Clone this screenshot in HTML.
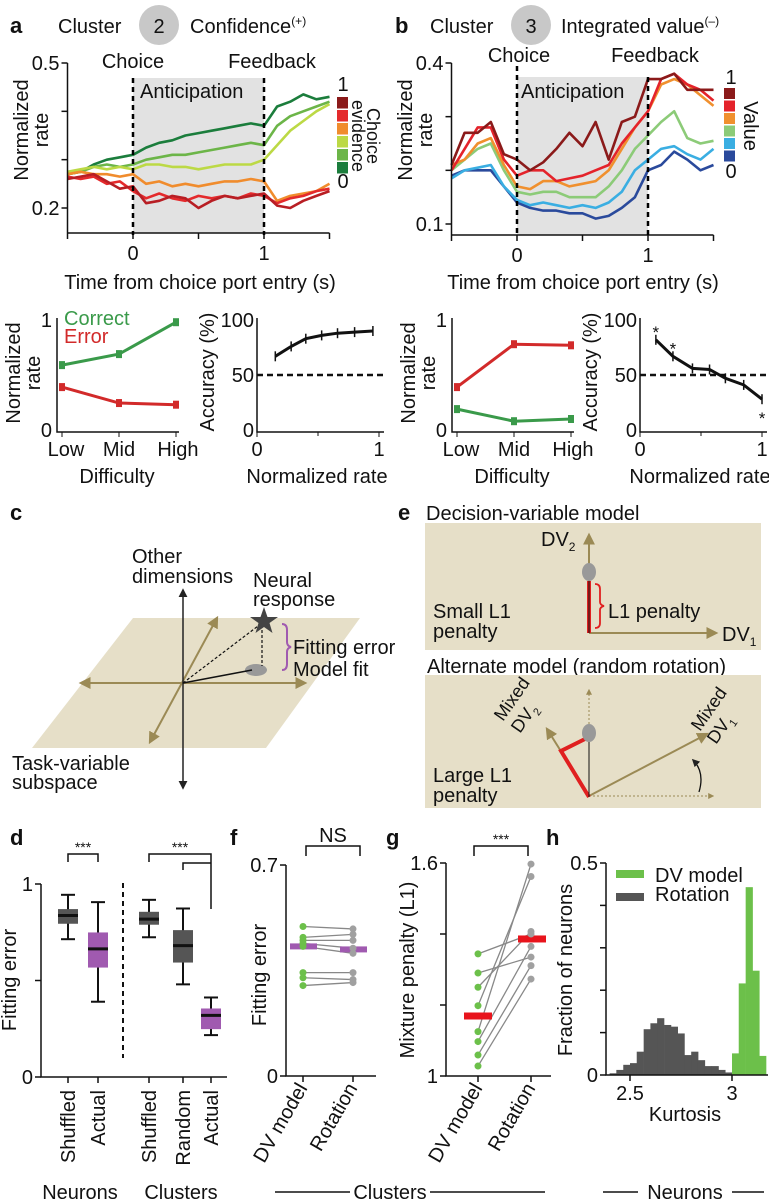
<!DOCTYPE html>
<html><head><meta charset="utf-8">
<style>
html,body{margin:0;padding:0;background:#fff;}
svg{display:block;font-family:"Liberation Sans",sans-serif;}
text{fill:#111;}
.t{font-size:18px}
.tl{font-size:20px}
.b{font-weight:bold;font-size:22px}
</style></head>
<body>
<svg id="fig" width="769" height="1200" viewBox="0 0 769 1200" xmlns="http://www.w3.org/2000/svg">
<defs>
<marker id="ah" viewBox="0 0 10 10" refX="8" refY="5" markerWidth="6" markerHeight="6" orient="auto-start-reverse"><path d="M0,0L10,5L0,10z" fill="#9b8a55"/></marker>
<marker id="ahk" viewBox="0 0 10 10" refX="8" refY="5" markerWidth="6" markerHeight="6" orient="auto-start-reverse"><path d="M0,0L10,5L0,10z" fill="#222"/></marker>
</defs>

<g>
<text x="10" y="33" class="b">a</text>
<text x="58" y="33" class="tl">Cluster</text>
<circle cx="159" cy="25" r="20" fill="#c8c8c8"/>
<text x="159" y="33" class="tl" text-anchor="middle">2</text>
<text x="190" y="33" class="tl">Confidence<tspan font-size="12" dy="-8">(+)</tspan></text>
<rect x="133" y="78" width="131" height="155" fill="#e2e2e2"/>
<text x="133" y="68" class="tl" text-anchor="middle">Choice</text>
<text x="272" y="68" class="tl" text-anchor="middle">Feedback</text>
<text x="140" y="98" class="tl">Anticipation</text>
<g id="ga"></g>
<line x1="133" y1="78" x2="133" y2="235" stroke="#000" stroke-width="2.5" stroke-dasharray="5,4"/>
<line x1="264" y1="78" x2="264" y2="235" stroke="#000" stroke-width="2.5" stroke-dasharray="5,4"/>
<text x="200" y="289" class="tl" text-anchor="middle">Time from choice port entry (s)</text>
<text transform="translate(28,130) rotate(-90)" class="tl" text-anchor="middle">Normalized</text>
<text transform="translate(48,130) rotate(-90)" class="tl" text-anchor="middle">rate</text>
<text x="343" y="91" class="tl" text-anchor="middle">1</text>
<text x="343" y="188" class="tl" text-anchor="middle">0</text>
<text transform="translate(367,136) rotate(90)" class="t" text-anchor="middle">Choice</text>
<text transform="translate(352,136) rotate(90)" class="t" text-anchor="middle">evidence</text>
</g>

<g>
<text x="395" y="33" class="b">b</text>
<text x="430" y="33" class="tl">Cluster</text>
<circle cx="531" cy="25" r="20" fill="#c8c8c8"/>
<text x="531" y="33" class="tl" text-anchor="middle">3</text>
<text x="561" y="33" class="tl">Integrated value<tspan font-size="12" dy="-8">(–)</tspan></text>
<rect x="517" y="77" width="131" height="158" fill="#e2e2e2"/>
<text x="519" y="62" class="tl" text-anchor="middle">Choice</text>
<text x="655" y="62" class="tl" text-anchor="middle">Feedback</text>
<text x="521" y="98" class="tl">Anticipation</text>
<g id="gb"></g>
<line x1="517" y1="66" x2="517" y2="237" stroke="#000" stroke-width="2.5" stroke-dasharray="5,4"/>
<line x1="648" y1="77" x2="648" y2="237" stroke="#000" stroke-width="2.5" stroke-dasharray="5,4"/>
<text x="583" y="289" class="tl" text-anchor="middle">Time from choice port entry (s)</text>
<text transform="translate(412,130) rotate(-90)" class="tl" text-anchor="middle">Normalized</text>
<text transform="translate(432,130) rotate(-90)" class="tl" text-anchor="middle">rate</text>
<text x="731" y="84" class="tl" text-anchor="middle">1</text>
<text x="731" y="178" class="tl" text-anchor="middle">0</text>
<text transform="translate(744,126) rotate(90)" class="tl" text-anchor="middle">Value</text>
</g>

<g id="gsmall"></g>
<text x="64" y="325" class="tl" style="fill:#3a9a4a">Correct</text>
<text x="64" y="343" class="tl" style="fill:#d22a2a">Error</text>

<g>
<text x="10" y="520" class="b">c</text>
<polygon points="32,748 133,618 360,618 266,748" fill="#e6dfc8"/>
<line x1="81" y1="683" x2="305" y2="683" stroke="#9b8a55" stroke-width="2" marker-start="url(#ah)" marker-end="url(#ah)"/>
<line x1="150" y1="742" x2="217" y2="618" stroke="#9b8a55" stroke-width="2" marker-start="url(#ah)" marker-end="url(#ah)"/>
<line x1="183" y1="788" x2="183" y2="590" stroke="#222" stroke-width="1.5" marker-start="url(#ahk)" marker-end="url(#ahk)"/>
<ellipse cx="256" cy="670" rx="11" ry="6" fill="#999"/>
<line x1="183" y1="683" x2="252" y2="670" stroke="#111" stroke-width="1.5"/>
<line x1="183" y1="683" x2="262" y2="623" stroke="#111" stroke-width="1.2" stroke-dasharray="3,2"/>
<line x1="262" y1="625" x2="262" y2="666" stroke="#111" stroke-width="1.2" stroke-dasharray="3,2"/>
<polygon points="264,607 267.5,617 278,617 269.5,623 272.5,633 264,627 255.5,633 258.5,623 250,617 260.5,617" fill="#444"/>
<path d="M282,624 q5,0 5,6 v12 q0,4 4,5 q-4,1 -4,5 v12 q0,6 -5,6" fill="none" stroke="#a05ab0" stroke-width="2"/>
<text x="293" y="654" class="tl">Fitting error</text>
<text x="293" y="676" class="tl">Model fit</text>
<text x="132" y="563" class="tl">Other</text>
<text x="132" y="583" class="tl">dimensions</text>
<text x="253" y="587" class="tl">Neural</text>
<text x="253" y="606" class="tl">response</text>
<text x="12" y="770" class="tl">Task-variable</text>
<text x="12" y="789" class="tl">subspace</text>
</g>

<g>
<text x="398" y="520" class="b">e</text>
<text x="426" y="520" class="tl">Decision-variable model</text>
<rect x="425" y="523" width="336" height="127" fill="#e6dfc8"/>
<line x1="589" y1="633" x2="589" y2="535" stroke="#9b8a55" stroke-width="2" marker-end="url(#ah)"/>
<line x1="589" y1="633" x2="716" y2="633" stroke="#9b8a55" stroke-width="2" marker-end="url(#ah)"/>
<line x1="589" y1="581" x2="589" y2="633" stroke="#e02020" stroke-width="4"/>
<line x1="589" y1="575" x2="589" y2="633" stroke="#111" stroke-width="1"/>
<ellipse cx="589" cy="572" rx="7" ry="9" fill="#999"/>
<path d="M595,584 q5,0 5,5 v13 q0,3 4,4 q-4,1 -4,4 v13 q0,5 -5,5" fill="none" stroke="#e02020" stroke-width="1.8"/>
<text x="608" y="618" class="tl">L1 penalty</text>
<text x="541" y="546" class="tl">DV<tspan font-size="12" dy="5">2</tspan></text>
<text x="722" y="641" class="tl">DV<tspan font-size="12" dy="5">1</tspan></text>
<text x="433" y="618" class="tl">Small L1</text>
<text x="433" y="638" class="tl">penalty</text>
<text x="427" y="673" class="tl">Alternate model (random rotation)</text>
<rect x="425" y="675" width="336" height="133" fill="#e6dfc8"/>
<line x1="589" y1="796" x2="589" y2="690" stroke="#9b8a55" stroke-width="1" stroke-dasharray="2,2" marker-end="url(#ah)"/>
<line x1="589" y1="796" x2="713" y2="796" stroke="#9b8a55" stroke-width="1" stroke-dasharray="2,2" marker-end="url(#ah)"/>
<line x1="589" y1="796" x2="547" y2="729" stroke="#9b8a55" stroke-width="2" marker-end="url(#ah)"/>
<line x1="589" y1="796" x2="707" y2="734" stroke="#9b8a55" stroke-width="2" marker-end="url(#ah)"/>
<polyline points="589,797 561,751 585,739" fill="none" stroke="#e02020" stroke-width="4"/>
<line x1="589" y1="738" x2="589" y2="797" stroke="#111" stroke-width="1"/>
<ellipse cx="589" cy="733" rx="7" ry="9" fill="#999"/>
<path d="M693,760 q12,12 6,32" fill="none" stroke="#111" stroke-width="1.3" marker-start="url(#ahk)"/>
<text transform="translate(503,722) rotate(-55)" class="t">Mixed</text>
<text transform="translate(520,734) rotate(-55)" class="t">DV<tspan font-size="11" dy="5">2</tspan></text>
<text transform="translate(700,732) rotate(-55)" class="t">Mixed</text>
<text transform="translate(716,745) rotate(-55)" class="t">DV<tspan font-size="11" dy="5">1</tspan></text>
<text x="433" y="782" class="tl">Large L1</text>
<text x="433" y="802" class="tl">penalty</text>
</g>

<g id="gd"></g>
<text x="10" y="845" class="b">d</text>
<text x="230" y="845" class="b">f</text>
<text x="386" y="845" class="b">g</text>
<text x="546" y="845" class="b">h</text>
<text x="80" y="1199" class="tl" text-anchor="middle">Neurons</text>
<text x="181" y="1199" class="tl" text-anchor="middle">Clusters</text>
<line x1="275" y1="1192" x2="350" y2="1192" stroke="#111" stroke-width="1.5"/>
<text x="390" y="1199" class="tl" text-anchor="middle">Clusters</text>
<line x1="430" y1="1192" x2="545" y2="1192" stroke="#111" stroke-width="1.5"/>
<line x1="603" y1="1192" x2="638" y2="1192" stroke="#111" stroke-width="1.5"/>
<text x="685" y="1199" class="tl" text-anchor="middle">Neurons</text>
<line x1="732" y1="1192" x2="764" y2="1192" stroke="#111" stroke-width="1.5"/>
</svg>

<script>
const timeA = [-0.5,-0.4,-0.3,-0.2,-0.1,0,0.1,0.2,0.3,0.4,0.5,0.6,0.7,0.8,0.9,1.0,1.1,1.2,1.3,1.4,1.5];
const aDarkGreen = [0.27,0.275,0.29,0.30,0.305,0.31,0.325,0.335,0.34,0.35,0.355,0.36,0.365,0.37,0.375,0.37,0.41,0.42,0.435,0.425,0.43];
const aMidGreen = [0.27,0.275,0.285,0.29,0.285,0.29,0.30,0.305,0.31,0.31,0.315,0.32,0.325,0.33,0.335,0.33,0.37,0.39,0.40,0.41,0.42];
const aYellowGreen = [0.275,0.28,0.285,0.28,0.285,0.28,0.29,0.29,0.285,0.285,0.28,0.285,0.29,0.29,0.29,0.30,0.33,0.36,0.38,0.40,0.415];
const aOrange = [0.27,0.275,0.27,0.27,0.265,0.27,0.25,0.255,0.245,0.25,0.245,0.25,0.255,0.255,0.26,0.255,0.215,0.225,0.23,0.235,0.25];
const aRed = [0.265,0.26,0.265,0.25,0.255,0.235,0.22,0.23,0.22,0.215,0.225,0.22,0.225,0.22,0.23,0.225,0.21,0.22,0.225,0.235,0.24];
const aDarkRed = [0.26,0.265,0.27,0.255,0.24,0.245,0.21,0.215,0.225,0.22,0.20,0.215,0.225,0.22,0.225,0.23,0.205,0.20,0.215,0.225,0.235];
const bDarkBlue = [0.19,0.2,0.2,0.2,0.17,0.14,0.13,0.125,0.125,0.12,0.12,0.11,0.115,0.13,0.15,0.2,0.21,0.235,0.22,0.2,0.21];
const bLightBlue = [0.185,0.2,0.205,0.21,0.17,0.145,0.135,0.14,0.135,0.13,0.135,0.13,0.14,0.16,0.2,0.22,0.24,0.245,0.23,0.22,0.24];
const bGreen = [0.2,0.22,0.24,0.25,0.2,0.16,0.155,0.16,0.16,0.15,0.15,0.15,0.17,0.2,0.24,0.265,0.29,0.31,0.26,0.25,0.255];
const bOrange = [0.21,0.22,0.25,0.26,0.21,0.17,0.165,0.18,0.18,0.17,0.175,0.18,0.2,0.24,0.28,0.31,0.36,0.37,0.36,0.34,0.32];
const bRed = [0.2,0.24,0.28,0.28,0.22,0.19,0.2,0.2,0.18,0.185,0.19,0.2,0.21,0.25,0.28,0.31,0.37,0.38,0.36,0.35,0.33];
const bDarkRed = [0.21,0.27,0.27,0.29,0.23,0.22,0.2,0.215,0.24,0.27,0.245,0.29,0.22,0.29,0.3,0.37,0.37,0.38,0.35,0.35,0.35];
const xTicksTime = [-0.5,0,0.5,1,1.5];
const xTickLabelsTime = ["","0","","1",""];
const aYTicks = [0.2,0.3,0.4,0.5];
const aYTickLabels = ["0.2","","","0.5"];
const bYTicks = [0.1,0.2,0.3,0.4];
const bYTickLabels = ["0.1","","","0.4"];

const difficulty = ["Low","Mid","High"];
const aCorrect = [0.59,0.69,0.98];
const aError = [0.39,0.245,0.23];
const bCorrect = [0.19,0.08,0.10];
const bError = [0.39,0.78,0.77];
const aAccRate = [0.15,0.28,0.4,0.53,0.66,0.8,0.95];
const aAcc = [67,76,83,86,88,89,90];
const bAccRate = [0.13,0.27,0.43,0.57,0.7,0.85,1.0];
const bAcc = [82,67,56,55,47,41,28];

const dCategories = ["Shuffled","Actual","Shuffled","Random","Actual"];
const dWhiskHi = [0.944,0.906,0.918,0.873,0.412];
const dQ3 = [0.87,0.749,0.856,0.761,0.355];
const dMedian = [0.837,0.664,0.818,0.681,0.319];
const dQ1 = [0.794,0.567,0.789,0.593,0.248];
const dWhiskLo = [0.714,0.39,0.724,0.48,0.217];

const fDV = [0.496,0.46,0.45,0.44,0.43,0.343,0.326,0.30];
const fRot = [0.488,0.47,0.45,0.424,0.407,0.343,0.32,0.31];
const fMeans = [0.43,0.42];
const gDV = [1.344,1.29,1.25,1.198,1.125,1.097,1.059,1.028];
const gRot = [1.4,1.335,1.407,1.562,1.597,1.365,1.311,1.273];
const gMeans = [1.169,1.386];

const hGrayBinStart = [2.40,2.433,2.467,2.5,2.533,2.567,2.6,2.633,2.667,2.7,2.733,2.767,2.8,2.833,2.867,2.9,2.933,2.967];
const hGray = [0.004,0.012,0.024,0.028,0.055,0.108,0.122,0.134,0.118,0.114,0.098,0.047,0.055,0.035,0.021,0.021,0.012,0.006];
const hGreenBinStart = [3.0,3.033,3.067,3.1,3.133];
const hGreen = [0.051,0.216,0.443,0.246,0.045];

const NS = "http://www.w3.org/2000/svg";
const FS = 20;
function mk(tag, attrs, parent){const e=document.createElementNS(NS,tag);for(const k in attrs)e.setAttribute(k,attrs[k]);parent.appendChild(e);return e;}
function txt(s, attrs, parent){const e=mk("text",attrs,parent);e.textContent=s;return e;}

function timePanel(g, x0, xAxisY, ymin, ymax, yTop, yBot, series, colors, yTicks, yLabels){
  const X = t => x0 + t*131;
  const Y = v => yBot - (v-ymin)/(ymax-ymin)*(yBot-yTop);
  series.forEach((s,i)=>{
    const d = s.map((v,j)=>(j?"L":"M")+X(timeA[j]).toFixed(1)+","+Y(v).toFixed(1)).join("");
    const p = mk("path",{d:d,fill:"none",stroke:colors[i],"stroke-width":2.6,"stroke-linejoin":"round"},g);
    
    
  });
  const ax = mk("path",{d:`M${X(-0.5)},${yTop}V${xAxisY}M${X(-0.5)},${xAxisY}H${X(1.5)}`,stroke:"#111","stroke-width":1.5,fill:"none"},g);
  
  
  xTicksTime.forEach((t,i)=>{
    mk("line",{x1:X(t),x2:X(t),y1:xAxisY,y2:xAxisY+6,stroke:"#111","stroke-width":1.5},g);
    if(xTickLabelsTime[i]){const tl=txt(xTickLabelsTime[i],{x:X(t),y:xAxisY+27,"text-anchor":"middle","font-size":FS},g);
      
      }
  });
  yTicks.forEach((v,i)=>{
    mk("line",{x1:X(-0.5)-6,x2:X(-0.5),y1:Y(v),y2:Y(v),stroke:"#111","stroke-width":1.5},g);
    if(yLabels[i]){const tl=txt(yLabels[i],{x:X(-0.5)-8,y:Y(v)+7,"text-anchor":"end","font-size":FS},g);
      
      }
  });
}
function legend(g, x, y, h, colors){
  const n=colors.length;
  for(let i=0;i<n;i++){const r=mk("rect",{x:x,y:y+i*h,width:11,height:h-1.5,fill:colors[n-1-i]},g);
    
    }
}
const aColors = ["#1b7d3c","#6cb548","#bcd945","#f08c2d","#e42a2c","#b81e24"];
const aLegColors = ["#1b7d3c","#6cb548","#bcd945","#f08c2d","#e42a2c","#8b1a1a"];
const ga=document.getElementById("ga");
timePanel(ga,133,233,0.2,0.5,63,208,[aDarkGreen,aMidGreen,aYellowGreen,aOrange,aRed,aDarkRed],aColors,aYTicks,aYTickLabels);
legend(ga,337,97,13,aLegColors);
const bColors = ["#2a4a9c","#3aaee2","#8ccb78","#f0902e","#e4232b","#8b1a1a"];
const gb=document.getElementById("gb");
timePanel(gb,517,235,0.1,0.4,63,224,[bDarkBlue,bLightBlue,bGreen,bOrange,bRed,bDarkRed],bColors,bYTicks,bYTickLabels);
legend(gb,724,88,12.5,bColors);

const gs = document.getElementById("gsmall");
function diffPanel(ax, serA, serB, colA, colB){
  const xs=[ax+5, ax+62, ax+119];
  const Y=v=>430 - v*110;
  mk("path",{d:`M${ax},318V432H${ax+122}`,stroke:"#111","stroke-width":1.5,fill:"none"},gs);
  [[serA,colA],[serB,colB]].forEach(([s,c])=>{
    const d=s.map((v,i)=>(i?"L":"M")+xs[i]+","+Y(v)).join("");
    const p=mk("path",{d:d,stroke:c,"stroke-width":3,fill:"none"},gs);
    
    
    s.forEach((v,i)=>{const m=mk("rect",{x:xs[i]-3,y:Y(v)-4,width:6,height:8,fill:c},gs);
      
      });
  });
  difficulty.forEach((lab,i)=>{mk("line",{x1:xs[i],x2:xs[i],y1:432,y2:437,stroke:"#111"},gs);
    const t=txt(lab,{x:xs[i]+(i==0?4:i==2?2:0),y:456,"text-anchor":"middle","font-size":FS},gs);
    
    });
  txt("1",{x:ax-5,y:327,"text-anchor":"end","font-size":FS},gs);
  txt("0",{x:ax-5,y:437,"text-anchor":"end","font-size":FS},gs);
  txt("Difficulty",{x:ax+60,y:483,"text-anchor":"middle","font-size":FS},gs);
  txt("Normalized",{transform:`translate(${ax-37},373) rotate(-90)`,"text-anchor":"middle","font-size":FS},gs);
  txt("rate",{transform:`translate(${ax-17},373) rotate(-90)`,"text-anchor":"middle","font-size":FS},gs);
}
diffPanel(57,aCorrect,aError,"#3a9a4a","#d22a2a");
diffPanel(452,bCorrect,bError,"#3a9a4a","#d22a2a");
function accPanel(ax, rates, accs, stars){
  const X=r=>ax+r*122, Y=v=>430-v*1.1;
  mk("path",{d:`M${ax},318V432H${ax+127}`,stroke:"#111","stroke-width":1.5,fill:"none"},gs);
  mk("line",{x1:ax,x2:ax+127,y1:Y(50),y2:Y(50),stroke:"#111","stroke-width":2.5,"stroke-dasharray":"6,4"},gs);
  const d=rates.map((r,i)=>(i?"L":"M")+X(r).toFixed(1)+","+Y(accs[i]).toFixed(1)).join("");
  const p=mk("path",{d:d,stroke:"#111","stroke-width":3,fill:"none"},gs);
  
  
  rates.forEach((r,i)=>{const e=mk("line",{x1:X(r),x2:X(r),y1:Y(accs[i])-5,y2:Y(accs[i])+5,stroke:"#111","stroke-width":1.5},gs);
    
    });
  stars.forEach(([r,v])=>{txt("*",{x:X(r),y:Y(v)+7,"text-anchor":"middle","font-size":17},gs);});
  [[0,"0"],[1,"1"]].forEach(([r,l])=>{mk("line",{x1:X(r),x2:X(r),y1:432,y2:437,stroke:"#111"},gs);txt(l,{x:X(r),y:456,"text-anchor":"middle","font-size":FS},gs);});
  mk("line",{x1:X(0.5),x2:X(0.5),y1:432,y2:436,stroke:"#111"},gs);
  [[0,"0"],[50,"50"],[100,"100"]].forEach(([v,l])=>txt(l,{x:ax-3,y:Y(v)+7,"text-anchor":"end","font-size":FS},gs));
  txt("Accuracy (%)",{transform:`translate(${ax-43},372) rotate(-90)`,"text-anchor":"middle","font-size":FS},gs);
  txt("Normalized rate",{x:ax+60,y:483,"text-anchor":"middle","font-size":FS},gs);
}
accPanel(257,aAccRate,aAcc,[]);
accPanel(640,bAccRate,bAcc,[[0.13,90],[0.27,75],[1.0,12]]);

const gd=document.getElementById("gd");
{
  const Y=v=>1077-v*193, xs=[68,98,149,183,211];
  const fills=["#555","#a05ab0","#555","#555","#a05ab0"];
  mk("path",{d:"M41,884V1077H227",stroke:"#111","stroke-width":1.5,fill:"none"},gd);
  [[0,"0"],[0.5,""],[1,"1"]].forEach(([v,l])=>{mk("line",{x1:35,x2:41,y1:Y(v),y2:Y(v),stroke:"#111","stroke-width":1.5},gd);if(l)txt(l,{x:33,y:Y(v)+7,"text-anchor":"end","font-size":FS},gd);});
  mk("line",{x1:123,x2:123,y1:883,y2:1058,stroke:"#111","stroke-width":2,"stroke-dasharray":"5,4"},gd);
  dCategories.forEach((c,i)=>{
    const x=xs[i];
    const w=mk("line",{x1:x,x2:x,y1:Y(dWhiskHi[i]),y2:Y(dWhiskLo[i]),stroke:"#111","stroke-width":2},gd);
    
    
    mk("line",{x1:x-7,x2:x+7,y1:Y(dWhiskHi[i]),y2:Y(dWhiskHi[i]),stroke:"#111","stroke-width":2},gd);
    mk("line",{x1:x-7,x2:x+7,y1:Y(dWhiskLo[i]),y2:Y(dWhiskLo[i]),stroke:"#111","stroke-width":2},gd);
    const b=mk("rect",{x:x-10,y:Y(dQ3[i]),width:20,height:Y(dQ1[i])-Y(dQ3[i]),fill:fills[i]},gd);
    
    
    mk("line",{x1:x-10,x2:x+10,y1:Y(dMedian[i]),y2:Y(dMedian[i]),stroke:"#111","stroke-width":3},gd);
    mk("line",{x1:x,x2:x,y1:1077,y2:1083,stroke:"#111","stroke-width":1.5},gd);
    const t=txt(c,{transform:`translate(${x+7},1090) rotate(-90)`,"text-anchor":"end","font-size":FS},gd);
    
    
  });
  mk("path",{d:"M68,862V854H98V862",stroke:"#111","stroke-width":1.5,fill:"none"},gd);
  txt("***",{x:83,y:852,"text-anchor":"middle","font-size":14},gd);
  mk("path",{d:"M149,862V854H211V909M183,870V863H211",stroke:"#111","stroke-width":1.5,fill:"none"},gd);
  txt("***",{x:180,y:852,"text-anchor":"middle","font-size":14},gd);
  txt("Fitting error",{transform:"translate(16,980) rotate(-90)","text-anchor":"middle","font-size":FS},gd);
}
{
  const Y=v=>1076-v*301.4, xL=303, xR=353;
  mk("path",{d:"M286,865V1076H376",stroke:"#111","stroke-width":1.5,fill:"none"},gd);
  [[0,"0"],[0.7,"0.7"]].forEach(([v,l])=>{mk("line",{x1:280,x2:286,y1:Y(v),y2:Y(v),stroke:"#111","stroke-width":1.5},gd);txt(l,{x:278,y:Y(v)+7,"text-anchor":"end","font-size":FS},gd);});
  fDV.forEach((v,i)=>{const l=mk("line",{x1:xL,x2:xR,y1:Y(v),y2:Y(fRot[i]),stroke:"#888","stroke-width":1.3},gd);
    
    });
  const m1=mk("rect",{x:xL-13,y:Y(fMeans[0])-3,width:27,height:6,fill:"#a05ab0"},gd);
  
  
  const m2=mk("rect",{x:xR-13,y:Y(fMeans[1])-3,width:27,height:6,fill:"#a05ab0"},gd);
  
  
  fDV.forEach(v=>{const c=mk("circle",{cx:xL,cy:Y(v),r:3.5,fill:"#6cc04a"},gd);
    
    });
  fRot.forEach(v=>{const c=mk("circle",{cx:xR,cy:Y(v),r:3.5,fill:"#a0a0a0"},gd);
    
    });
  [[xL,"DV model"],[xR,"Rotation"]].forEach(([x,l])=>{mk("line",{x1:x,x2:x,y1:1076,y2:1082,stroke:"#111","stroke-width":1.5},gd);
    txt(l,{transform:`translate(${x+5},1088) rotate(-60)`,"text-anchor":"end","font-size":FS},gd);});
  mk("path",{d:"M306,856V846H360V856",stroke:"#111","stroke-width":1.5,fill:"none"},gd);
  txt("NS",{x:333,y:842,"text-anchor":"middle","font-size":FS},gd);
  txt("Fitting error",{transform:"translate(266,975) rotate(-90)","text-anchor":"middle","font-size":FS},gd);
}
{
  const Y=v=>1076-(v-1)*355, xL=478, xR=531;
  mk("path",{d:"M446,863V1076H551",stroke:"#111","stroke-width":1.5,fill:"none"},gd);
  [[1,"1"],[1.2,""],[1.4,""],[1.6,"1.6"]].forEach(([v,l])=>{mk("line",{x1:440,x2:446,y1:Y(v),y2:Y(v),stroke:"#111","stroke-width":1.5},gd);if(l)txt(l,{x:438,y:Y(v)+7,"text-anchor":"end","font-size":FS},gd);});
  gDV.forEach((v,i)=>{const l=mk("line",{x1:xL,x2:xR,y1:Y(v),y2:Y(gRot[i]),stroke:"#888","stroke-width":1.3},gd);
    
    });
  const m1=mk("rect",{x:xL-14,y:Y(gMeans[0])-3.5,width:28,height:7,fill:"#e8141c"},gd);
  
  
  const m2=mk("rect",{x:xR-13,y:Y(gMeans[1])-3.5,width:28,height:7,fill:"#e8141c"},gd);
  
  
  gDV.forEach(v=>{const c=mk("circle",{cx:xL,cy:Y(v),r:3.5,fill:"#6cc04a"},gd);
    
    });
  gRot.forEach(v=>{const c=mk("circle",{cx:xR,cy:Y(v),r:3.5,fill:"#a0a0a0"},gd);
    
    });
  [[xL,"DV model"],[xR,"Rotation"]].forEach(([x,l])=>{mk("line",{x1:x,x2:x,y1:1076,y2:1082,stroke:"#111","stroke-width":1.5},gd);
    txt(l,{transform:`translate(${x+5},1088) rotate(-60)`,"text-anchor":"end","font-size":FS},gd);});
  mk("path",{d:"M474,856V846H528V856",stroke:"#111","stroke-width":1.5,fill:"none"},gd);
  txt("***",{x:501,y:844,"text-anchor":"middle","font-size":14},gd);
  txt("Mixture penalty (L1)",{transform:"translate(414,970) rotate(-90)","text-anchor":"middle","font-size":FS},gd);
}
{
  const X=k=>630+(k-2.5)*204, Y=v=>1075-v*424, bw=0.0333*204;
  hGray.forEach((v,i)=>{const r=mk("rect",{x:X(hGrayBinStart[i]),y:Y(v),width:bw+0.4,height:1075-Y(v),fill:"#555"},gd);
    
    });
  hGreen.forEach((v,i)=>{const r=mk("rect",{x:X(hGreenBinStart[i]),y:Y(v),width:bw+0.4,height:1075-Y(v),fill:"#6cc04a"},gd);
    
    });
  mk("path",{d:"M606,863V1075H768",stroke:"#111","stroke-width":1.5,fill:"none"},gd);
  [[0,"0"],[0.1,""],[0.2,""],[0.3,""],[0.4,""],[0.5,"0.5"]].forEach(([v,l])=>{mk("line",{x1:600,x2:606,y1:Y(v),y2:Y(v),stroke:"#111","stroke-width":1.5},gd);if(l)txt(l,{x:598,y:Y(v)+7,"text-anchor":"end","font-size":FS},gd);});
  [[2.5,"2.5"],[3,"3"]].forEach(([k,l])=>{mk("line",{x1:X(k),x2:X(k),y1:1075,y2:1081,stroke:"#111","stroke-width":1.5},gd);txt(l,{x:X(k),y:1100,"text-anchor":"middle","font-size":FS},gd);});
  txt("Kurtosis",{x:685,y:1121,"text-anchor":"middle","font-size":FS},gd);
  txt("Fraction of neurons",{transform:"translate(572,970) rotate(-90)","text-anchor":"middle","font-size":FS},gd);
  const l1=mk("rect",{x:616,y:870,width:28,height:8,fill:"#6cc04a"},gd);
  
  
  txt("DV model",{x:655,y:882,"font-size":FS},gd);
  const l2=mk("rect",{x:616,y:893,width:28,height:8,fill:"#555"},gd);
  
  
  txt("Rotation",{x:655,y:901,"font-size":FS},gd);
}
</script>
</body></html>
